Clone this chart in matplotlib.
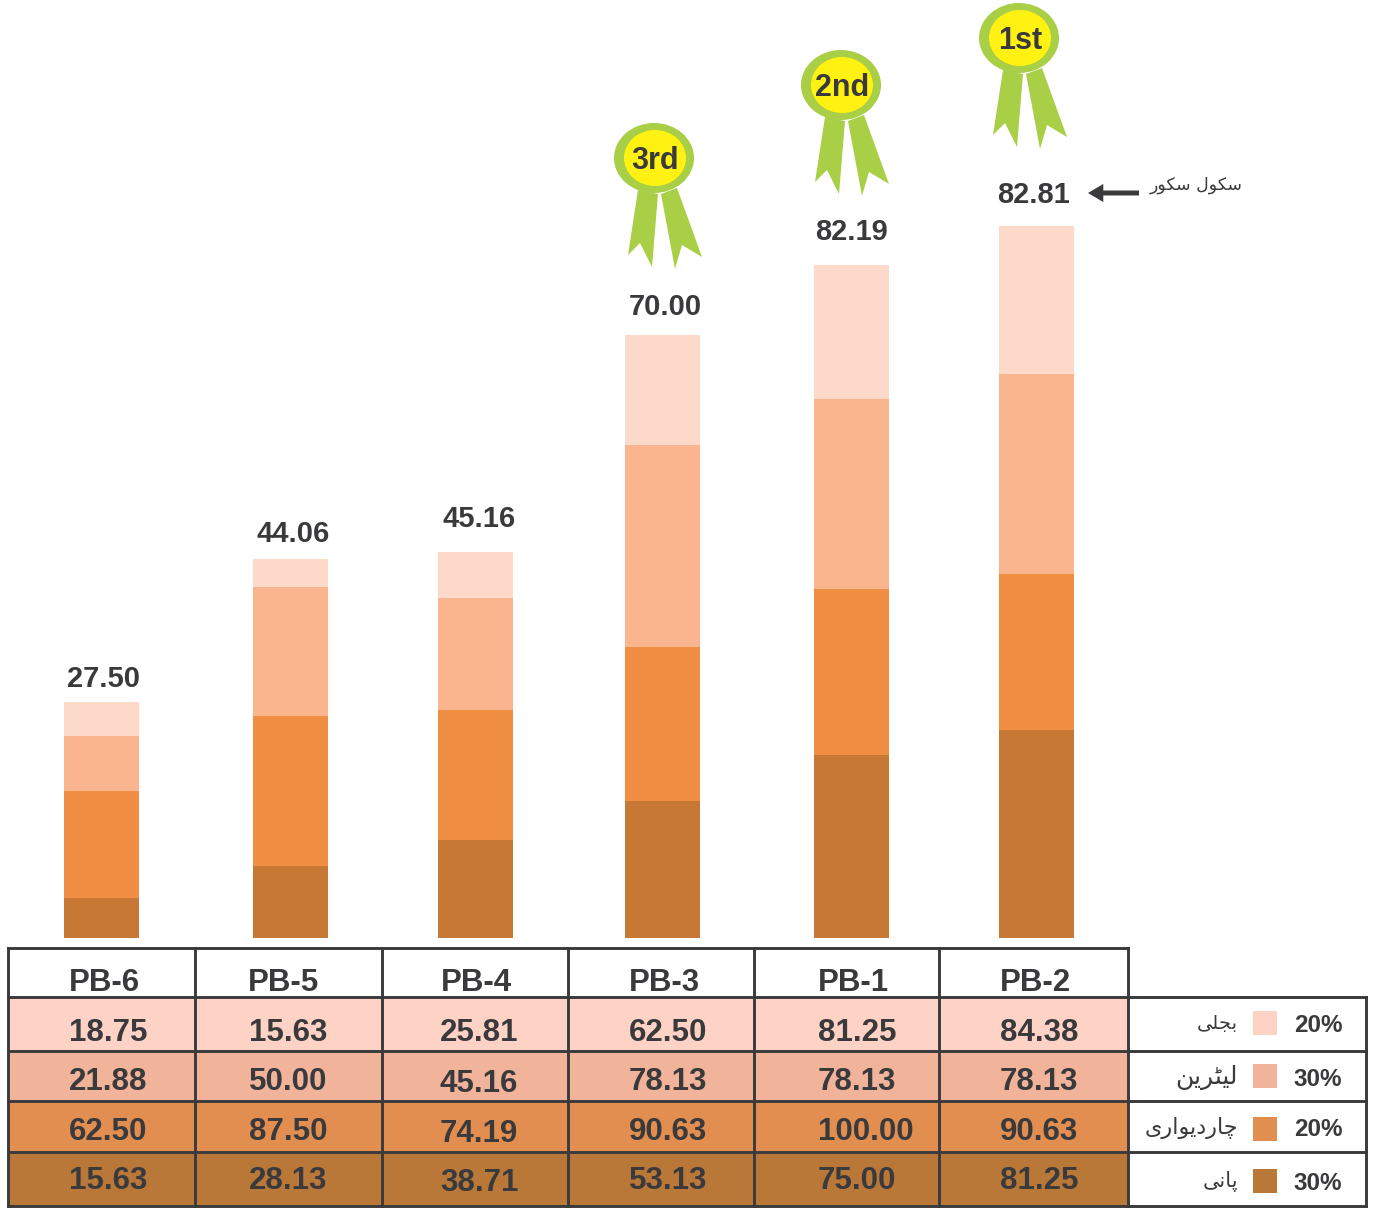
import matplotlib.pyplot as plt
from matplotlib.patches import Ellipse, Polygon, Rectangle

# data
schools = ['PB-6', 'PB-5', 'PB-4', 'PB-3', 'PB-1', 'PB-2']
scores = ['27.50', '44.06', '45.16', '70.00', '82.19', '82.81']

# bar segments as drawn in the picture, bottom to top
bar_water = [4.65, 8.37, 11.40, 15.93, 21.28, 24.19]
bar_wall = [12.44, 17.44, 15.12, 17.91, 19.30, 18.14]
bar_latrine = [6.40, 15.00, 13.02, 23.49, 22.09, 23.26]
bar_power = [3.95, 3.26, 5.35, 12.79, 15.58, 17.21]

# table rows, top to bottom
table_power = ['18.75', '15.63', '25.81', '62.50', '81.25', '84.38']
table_latrine = ['21.88', '50.00', '45.16', '78.13', '78.13', '78.13']
table_wall = ['62.50', '87.50', '74.19', '90.63', '100.00', '90.63']
table_water = ['15.63', '28.13', '38.71', '53.13', '75.00', '81.25']

# urdu labels: shaped presentation forms in drawing order
# bijli, latrine, chardiwari, pani
legend_names = ['\uFBFD\uFEE0\uFEA0\uFE91',
                '\uFEE6\uFBFE\uFEAE\uFB69\uFBFF\uFEDF',
                '\uFBFC\uFEAD\uFE8D\uFEEE\uFBFE\uFEA9\uFEAD\uFE8E\uFB7C',
                '\uFBFD\uFEE7\uFE8E\uFB58']
legend_weights = ['20%', '30%', '20%', '30%']
# school score
score_title = '\uFEAD\uFEEE\uFB91\uFEB3 \uFEDD\uFEEE\uFB91\uFEB3'

medals = ['3rd', '2nd', '1st']

# style
dark = '#3a3a3c'
bar_colors = ['#c67834', '#f08f43', '#fab58f', '#fcd9c8']
row_colors = ['#ffd2c6', '#f2b39b', '#e28e50', '#ba7838']
green = '#a9cf46'
yellow = '#fff212'
bold = ['Liberation Sans', 'DejaVu Sans']

W, H = 1375, 1210
fig = plt.figure(figsize=(W / 100, H / 100), dpi=100)

# pixel coords overlay for table, medals and labels
ax = fig.add_axes([0, 0, 1, 1])
ax.set_xlim(0, W)
ax.set_ylim(H, 0)
ax.axis('off')

# bar axes: baseline at y=938, 8.6 px per score point
bar_ax = fig.add_axes([0, (H - 938) / H, 1, 938 / H])
bar_ax.set_xlim(0, W)
bar_ax.set_ylim(0, 938 / 8.6)
bar_ax.axis('off')

bar_x = [101.5, 290.5, 475.5, 662.5, 851.5, 1036.5]
bottom = [0] * 6
for seg, col in zip([bar_water, bar_wall, bar_latrine, bar_power], bar_colors):
    bar_ax.bar(bar_x, seg, width=75, bottom=bottom, color=col, linewidth=0)
    bottom = [b + s for b, s in zip(bottom, seg)]

# score labels
label_x = [104, 293, 479, 665, 852, 1034]
label_y = [679, 534, 519, 307, 232, 195]
for x, y, s in zip(label_x, label_y, scores):
    ax.text(x, y, s, ha='center', va='center', family=bold, weight='bold',
            fontsize=21, color=dark)

# table
col_edges = [8, 195, 382, 568, 754, 939, 1128]
row_edges = [948, 997, 1051, 1101, 1152, 1206]
rows = [table_power, table_latrine, table_wall, table_water]
for i, col in enumerate(row_colors):
    ax.add_patch(Rectangle((8, row_edges[i + 1]), 1120,
                           row_edges[i + 2] - row_edges[i + 1],
                           facecolor=col, edgecolor='none'))
for x in col_edges:
    ax.plot([x, x], [948, 1206], color=dark, lw=2.1, solid_capstyle='projecting')
for y in row_edges:
    ax.plot([8, 1128], [y, y], color=dark, lw=2.1, solid_capstyle='projecting')
for y in row_edges[1:]:
    ax.plot([1128, 1366], [y, y], color=dark, lw=2.1, solid_capstyle='projecting')
ax.plot([1366, 1366], [997, 1206], color=dark, lw=2.1, solid_capstyle='projecting')

head_x = [104, 284, 476, 664, 853, 1035]
for x, s in zip(head_x, schools):
    ax.text(x, 983, s, ha='center', va='center', family=bold, weight='bold',
            fontsize=22.5, color=dark)

cell_x = [108, 288, 479, 668, 857, 1039]
cell_y = [1033, 1082, 1132, 1181]
for row, y in zip(rows, cell_y):
    for j, s in enumerate(row):
        x = cell_x[j]
        yy = y
        if s == '100.00':
            x = 866
        if j == 2 and y != 1033:
            yy = y + 2
        ax.text(x, yy, s, ha='center', va='center', family=bold, weight='bold',
                fontsize=22.5, color=dark)

# legend
name_y = [1024, 1078, 1128, 1182]
name_size = [14, 18, 16, 15]
box_y = [1011, 1064, 1117, 1169]
pct_y = [1025, 1079, 1130, 1184]
for i in range(4):
    ax.text(1238, name_y[i], legend_names[i], ha='right', va='center',
            family='DejaVu Sans', fontsize=name_size[i], color=dark)
    ax.add_patch(Rectangle((1253, box_y[i]), 24, 24, facecolor=row_colors[i],
                           edgecolor='none'))
    ax.text(1318, pct_y[i], legend_weights[i], ha='center', va='center',
            family=bold, weight='bold', fontsize=17.5, color=dark)

# medals
medal_x = [654, 841, 1019]
medal_y = [158, 85, 38]
left_tail = [(-16, 32), (-26, 97), (-14, 85), (-2, 109), (4, 36)]
right_tail = [(7, 36), (21, 111), (28, 87), (48, 99), (23, 30)]
for cx, cy, s in zip(medal_x, medal_y, medals):
    for tail in (left_tail, right_tail):
        ax.add_patch(Polygon([(cx + dx, cy + dy) for dx, dy in tail],
                             facecolor=green, edgecolor='none'))
    ax.add_patch(Ellipse((cx, cy), 80, 70, facecolor=green, edgecolor='none'))
    ax.add_patch(Ellipse((cx + 1, cy), 62, 56, facecolor=yellow, edgecolor='none'))
    ax.text(cx + 1, cy + 3, s, ha='center', va='center', family=bold, weight='bold',
            fontsize=22, color=dark)

# arrow and score title
ax.annotate('', xy=(1088, 193), xytext=(1139, 193),
            arrowprops=dict(facecolor=dark, edgecolor='none', width=3.6,
                            headwidth=13, headlength=11, shrink=0))
ax.text(1243, 185, score_title, ha='right', va='center', family='DejaVu Sans',
        fontsize=12.5, color=dark)

fig.savefig('out.png', dpi=100)
